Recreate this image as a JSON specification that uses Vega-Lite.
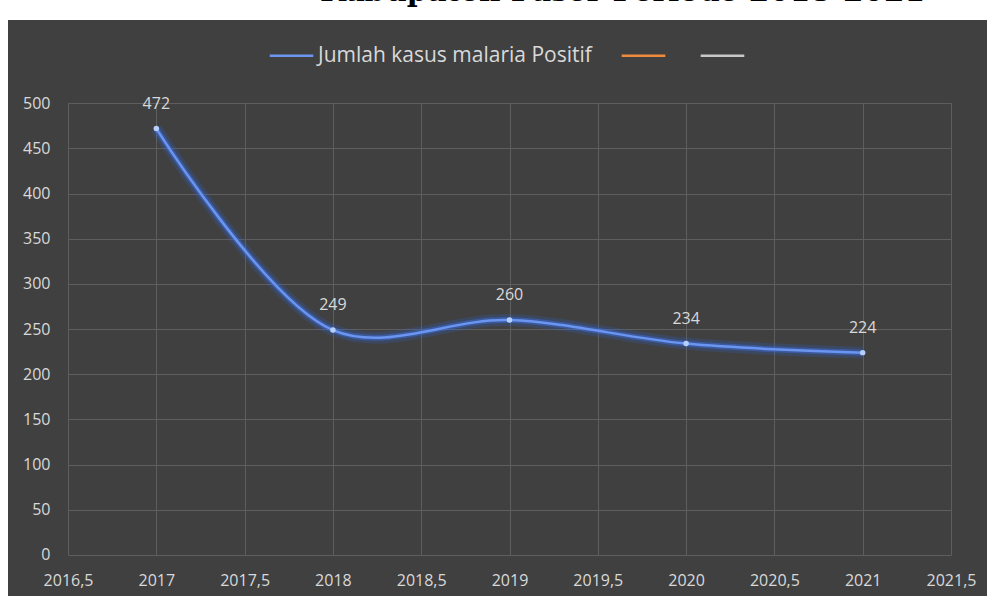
{
  "$schema": "https://vega.github.io/schema/vega-lite/v6.json",
  "autosize": {"type": "none"},
  "width": 979,
  "height": 576,
  "padding": {"left": 8, "top": 20, "right": 0, "bottom": 0},
  "background": "#ffffff",
  "title": {
    "text": "Kabupaten Paser Periode 2018-2021",
    "font": "DejaVu Serif",
    "fontWeight": "bold",
    "fontSize": 29.5,
    "color": "#000000",
    "anchor": "start",
    "dx": 312,
    "baseline": "alphabetic",
    "offset": -10
  },
  "config": {
    "view": {"fill": "#404040", "stroke": null},
    "font": "Open Sans"
  },
  "data": {
    "values": [
      {"tahun": 2017, "kasus": 472, "series": "Jumlah kasus malaria Positif"},
      {"tahun": 2018, "kasus": 249, "series": "Jumlah kasus malaria Positif"},
      {"tahun": 2019, "kasus": 260, "series": "Jumlah kasus malaria Positif"},
      {"tahun": 2020, "kasus": 234, "series": "Jumlah kasus malaria Positif"},
      {"tahun": 2021, "kasus": 224, "series": "Jumlah kasus malaria Positif"}
    ]
  },
  "encoding": {
    "x": {
      "field": "tahun", "type": "quantitative",
      "scale": {"domain": [2016.16, 2021.704], "nice": false, "zero": false},
      "axis": {
        "title": null, "orient": "bottom", "offset": -41,
        "values": [2016.5, 2017, 2017.5, 2018, 2018.5, 2019, 2019.5, 2020, 2020.5, 2021, 2021.5],
        "format": ".1~f",
        "labelExpr": "replace(datum.label, '.', ',')",
        "grid": false, "domain": false,
        "ticks": true, "tickSize": -452, "tickColor": "#5e5e5e", "tickWidth": 1,
        "labelColor": "#d9d9d9", "labelFontSize": 16, "labelPadding": 469,
        "labelFont": "Open Sans"
      }
    },
    "y": {
      "field": "kasus", "type": "quantitative",
      "scale": {"domain": [-45.4, 592.2], "nice": false, "zero": false},
      "axis": {
        "title": null, "orient": "left", "offset": -60,
        "values": [0, 50, 100, 150, 200, 250, 300, 350, 400, 450, 500],
        "format": "d",
        "grid": false, "domain": false,
        "ticks": true, "tickSize": -883, "tickColor": "#5e5e5e", "tickWidth": 1,
        "labelColor": "#d9d9d9", "labelFontSize": 16, "labelPadding": 901,
        "labelFont": "Open Sans"
      }
    }
  },
  "layer": [
    {
      "mark": {"type": "line", "interpolate": "catmull-rom", "strokeWidth": 12, "opacity": 0.2, "color": "#2f66e0"},
      "encoding": {}
    },
    {
      "mark": {"type": "line", "interpolate": "catmull-rom", "strokeWidth": 6, "opacity": 0.45, "color": "#3a72ea"},
      "encoding": {}
    },
    {
      "mark": {"type": "line", "interpolate": "catmull-rom", "strokeWidth": 2.5},
      "encoding": {
        "color": {
          "field": "series", "type": "nominal",
          "scale": {
            "domain": ["Jumlah kasus malaria Positif", "Series2", "Series3"],
            "range": ["#6b95f0", "#f08a3c", "#c8c8c8"]
          },
          "legend": {
            "title": null, "orient": "none", "direction": "horizontal",
            "legendX": 260, "legendY": 12, "padding": 0,
            "symbolType": "stroke", "symbolSize": 1900, "symbolStrokeWidth": 2.5,
            "labelExpr": "datum.label == 'Jumlah kasus malaria Positif' ? datum.label : ''",
            "labelColor": "#d9d9d9", "labelFontSize": 21, "labelFont": "Open Sans",
            "labelOffset": 3, "columnPadding": 24, "labelLimit": 400
          }
        }
      }
    },
    {
      "mark": {"type": "point", "filled": true, "size": 30, "color": "#b5d0ff", "opacity": 1},
      "encoding": {}
    },
    {
      "mark": {"type": "text", "dy": -25, "fontSize": 16, "color": "#d9d9d9", "font": "Open Sans", "baseline": "middle"},
      "encoding": {"text": {"field": "kasus", "type": "quantitative"}}
    }
  ]
}
